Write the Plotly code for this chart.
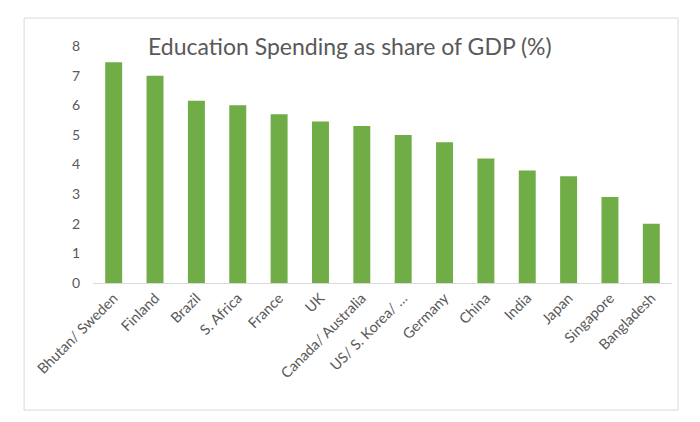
import plotly.graph_objects as go

categories = ["Bhutan/ Sweden", "Finland", "Brazil", "S. Africa", "France", "UK",
              "Canada/ Australia", "US/ S. Korea/ …", "Germany", "China", "India",
              "Japan", "Singapore", "Bangladesh"]
values = [7.45, 7.0, 6.15, 6.0, 5.7, 5.45, 5.3, 5.0, 4.75, 4.2, 3.8, 3.6, 2.9, 2.0]
y_ticks = [0, 1, 2, 3, 4, 5, 6, 7, 8]

fig = go.Figure(go.Bar(x=categories, y=values, marker_color="#70ad47",
                       marker_line_width=0))

fig.update_layout(
    width=700, height=422,
    margin=dict(l=93, r=28, t=46, b=139),
    paper_bgcolor="white", plot_bgcolor="white",
    bargap=0.59,
    showlegend=False,
    font=dict(family="Lato, Open Sans, sans-serif", color="#595959"),
    xaxis=dict(showgrid=False, showline=True, linecolor="#d9d9d9", linewidth=1,
               ticks="", tickangle=-45, tickfont=dict(size=14.5, color="#595959")),
    yaxis=dict(range=[0, 8], tickvals=y_ticks, showgrid=False, zeroline=False,
               showline=False, ticks="", ticklabelstandoff=12,
               tickfont=dict(size=14, color="#595959")),
    shapes=[dict(type="rect", xref="paper", yref="paper",
                 x0=-0.119, x1=1.0104, y0=-0.536, y1=1.118,
                 line=dict(color="#d9d9d9", width=1), layer="below")],
    annotations=[dict(text="Education Spending as share of GDP (%)",
                      xref="paper", yref="paper", x=0.444, y=1.0,
                      xanchor="center", yanchor="middle", showarrow=False,
                      font=dict(size=23, color="#595959"))],
)

fig.write_html("out.html")
